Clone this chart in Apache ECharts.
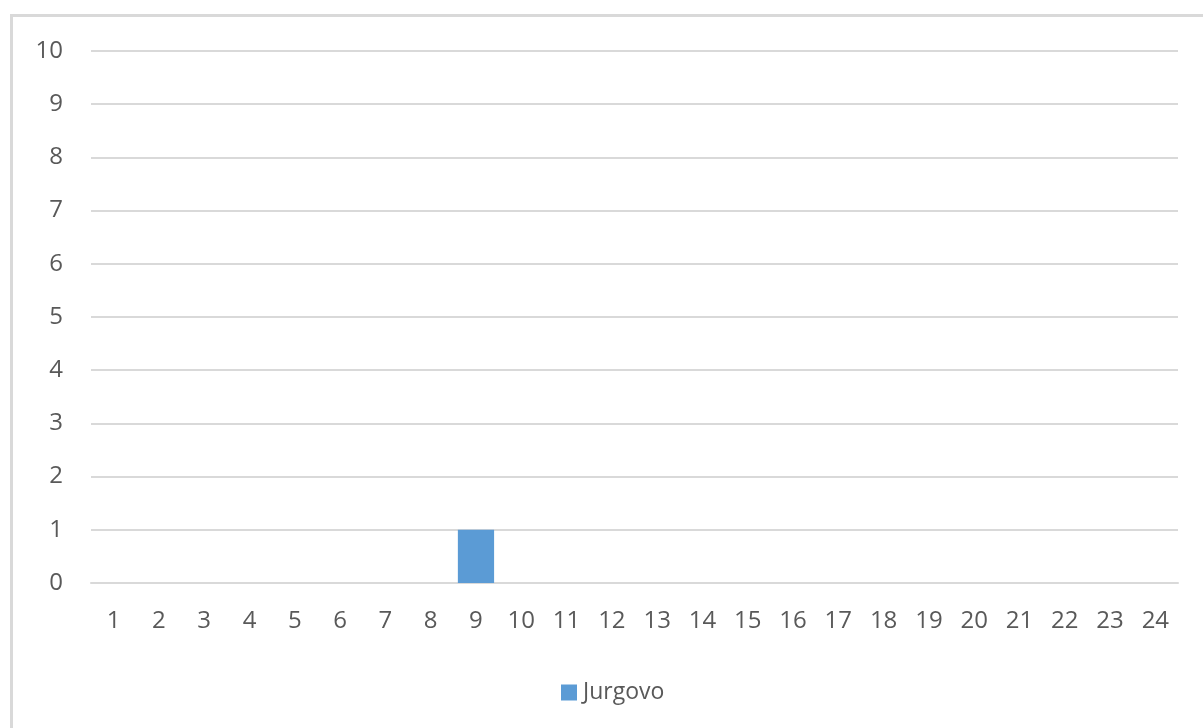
<!DOCTYPE html>
<html>
<head>
<meta charset="utf-8">
<script src="https://cdn.jsdelivr.net/npm/echarts@6/dist/echarts.min.js"></script>
<style>
  html, body { margin: 0; padding: 0; background: #ffffff; }
  #chart { width: 1203px; height: 728px; }
</style>
</head>
<body>
<div id="chart"></div>
<script>
// Hours of the day along the x-axis
const categories = ['1','2','3','4','5','6','7','8','9','10','11','12','13','14','15','16','17','18','19','20','21','22','23','24'];
// Counts for Jurgovo per hour
const jurgovo = [0,0,0,0,0,0,0,0,1,0,0,0,0,0,0,0,0,0,0,0,0,0,0,0];
const seriesName = 'Jurgovo';
const yMin = 0, yMax = 10, yStep = 1;

const textColor = '#595959';
const gridColor = '#d9d9d9';
const fontFamily = '"Open Sans", "Noto Sans", sans-serif';

const chart = echarts.init(document.getElementById('chart'), null, { renderer: 'canvas' });
chart.setOption({
  animation: false,
  backgroundColor: '#ffffff',
  graphic: [{
    type: 'rect',
    shape: { x: 11.5, y: 15.5, width: 1300, height: 900 },
    style: { fill: 'none', stroke: '#d9d9d9', lineWidth: 3 },
    silent: true,
    z: -1
  }],
  grid: { left: 91, right: 25, top: 51, bottom: 145, containLabel: false },
  legend: {
    data: [seriesName],
    left: 556,
    top: 676,
    icon: 'rect',
    itemWidth: 16,
    itemHeight: 16,
    itemGap: 6,
    textStyle: { color: textColor, fontSize: 23, fontFamily: fontFamily, padding: [0, 0, 0, 1] }
  },
  xAxis: {
    type: 'category',
    data: categories,
    axisLine: { show: true, lineStyle: { color: gridColor, width: 2 } },
    axisTick: { show: false },
    axisLabel: { color: textColor, fontSize: 24, fontFamily: fontFamily, margin: 26, interval: 0 }
  },
  yAxis: {
    type: 'value',
    min: yMin,
    max: yMax,
    interval: yStep,
    axisLine: { show: false },
    axisTick: { show: false },
    axisLabel: { color: textColor, fontSize: 24, fontFamily: fontFamily, margin: 28 },
    splitLine: { show: true, lineStyle: { color: gridColor, width: 2 } }
  },
  series: [{
    name: seriesName,
    type: 'bar',
    data: jurgovo,
    barCategoryGap: '20%',
    itemStyle: { color: '#5b9bd5' }
  }]
});
</script>
</body>
</html>
